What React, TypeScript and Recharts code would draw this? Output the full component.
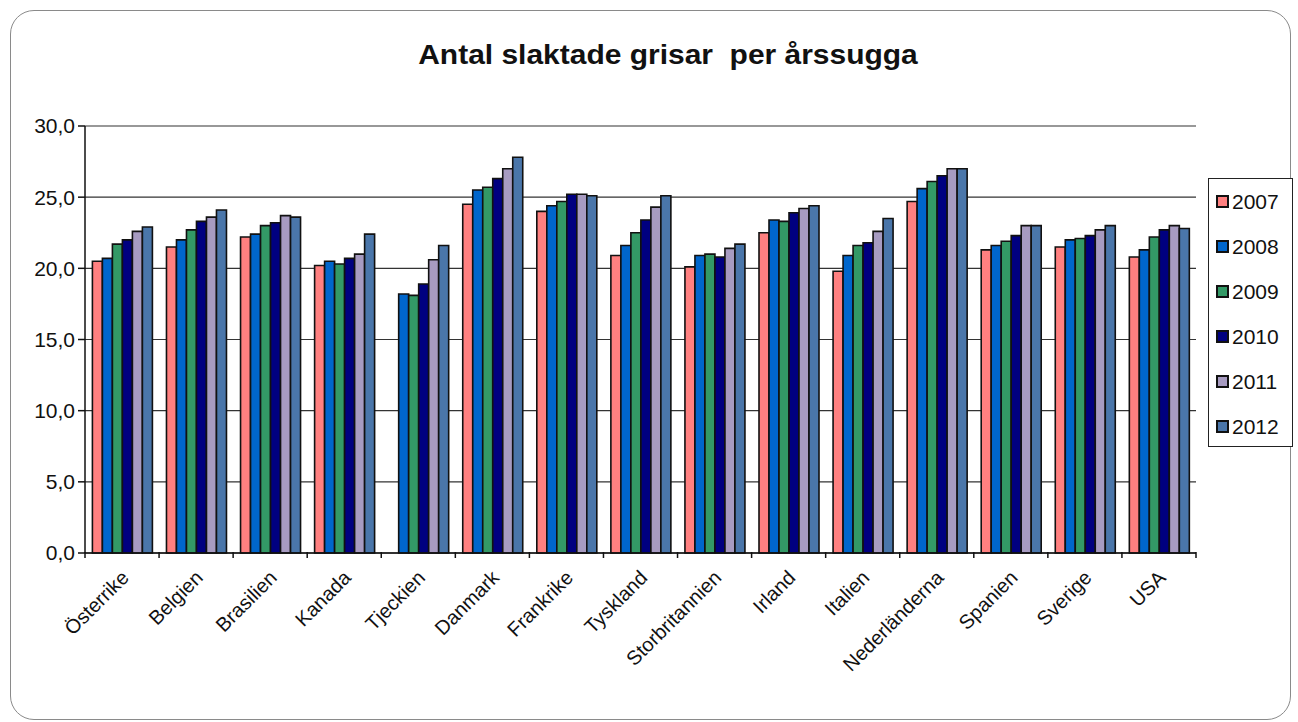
import React from 'react'
import { BarChart, Bar, XAxis, YAxis, CartesianGrid, Legend } from 'recharts'

const countries = [
  'Österrike', 'Belgien', 'Brasilien', 'Kanada', 'Tjeckien', 'Danmark', 'Frankrike', 'Tyskland',
  'Storbritannien', 'Irland', 'Italien', 'Nederländerna', 'Spanien', 'Sverige', 'USA'
]

const v2007 = [20.5, 21.5, 22.2, 20.2, null, 24.5, 24.0, 20.9, 20.1, 22.5, 19.8, 24.7, 21.3, 21.5, 20.8]
const v2008 = [20.7, 22.0, 22.4, 20.5, 18.2, 25.5, 24.4, 21.6, 20.9, 23.4, 20.9, 25.6, 21.6, 22.0, 21.3]
const v2009 = [21.7, 22.7, 23.0, 20.3, 18.1, 25.7, 24.7, 22.5, 21.0, 23.3, 21.6, 26.1, 21.9, 22.1, 22.2]
const v2010 = [22.0, 23.3, 23.2, 20.7, 18.9, 26.3, 25.2, 23.4, 20.8, 23.9, 21.8, 26.5, 22.3, 22.3, 22.7]
const v2011 = [22.6, 23.6, 23.7, 21.0, 20.6, 27.0, 25.2, 24.3, 21.4, 24.2, 22.6, 27.0, 23.0, 22.7, 23.0]
const v2012 = [22.9, 24.1, 23.6, 22.4, 21.6, 27.8, 25.1, 25.1, 21.7, 24.4, 23.5, 27.0, 23.0, 23.0, 22.8]

const years = ['2007', '2008', '2009', '2010', '2011', '2012']
const series = [v2007, v2008, v2009, v2010, v2011, v2012]
const colors = ['#FF8080', '#0066CC', '#339966', '#000080', '#A79BC1', '#4A76AA']

const yTicks = [0, 5, 10, 15, 20, 25, 30]

const data = countries.map((name, i) => {
  const row: Record<string, string | number | null> = { name }
  years.forEach((y, k) => {
    row[y] = series[k][i]
  })
  return row
})

const font = 'Arial, "Liberation Sans", sans-serif'

// tick label plus a tick mark on each category boundary (Excel style)
const CountryTick = (props: any) => {
  const { x, y, payload } = props
  const half = payload.offset || 0
  const axisY = y - 1
  const last = payload.index === countries.length - 1
  return (
    <g>
      <line x1={x - half} x2={x - half} y1={axisY - 8} y2={axisY - 2} stroke="#111" strokeWidth={1.5} />
      {last && <line x1={x + half} x2={x + half} y1={axisY - 8} y2={axisY - 2} stroke="#111" strokeWidth={1.5} />}
      <g transform={`translate(${x + 8},${y + 18})`}>
        <text transform="rotate(-45)" textAnchor="end" fontSize={20} fontFamily={font} fill="#111">
          {payload.value}
        </text>
      </g>
    </g>
  )
}

const LegendBox = (props: any) => {
  const items = props.payload || []
  return (
    <div style={{ border: '1px solid #222', width: 85, height: 269, boxSizing: 'border-box', paddingTop: 0, background: '#fff' }}>
      {items.map((it: any) => (
        <div key={it.value} style={{ display: 'flex', alignItems: 'center', height: 45, paddingLeft: 7, fontFamily: font, fontSize: 21, color: '#111' }}>
          <span style={{ width: 9, height: 9, background: it.color, border: '2px solid #111', marginRight: 3, display: 'inline-block' }} />
          {it.value}
        </div>
      ))}
    </div>
  )
}

export default function App() {
  return (
    <div style={{ position: 'absolute', left: 0, top: 0, width: 1298, height: 722, background: '#fff', overflow: 'hidden' }}>
      <div style={{ position: 'absolute', left: 10, top: 10, width: 1281, height: 710, border: '1.5px solid #8a8a8a', borderRadius: 24, boxSizing: 'border-box' }} />
      <div style={{ position: 'absolute', left: 368, width: 600, top: 39, textAlign: 'center', fontFamily: font, fontWeight: 'bold', fontSize: 28, color: '#111', transform: 'scaleX(1.07)' }}>
        Antal slaktade grisar&nbsp; per årssugga
      </div>
      <div style={{ position: 'absolute', left: 0, top: 0 }}>
        <BarChart
          width={1298}
          height={722}
          data={data}
          margin={{ top: 126, right: 102, left: 25, bottom: 0 }}
          barCategoryGap="10%"
          barGap={0}
        >
          <CartesianGrid vertical={false} stroke="#333" strokeWidth={1.2} />
          <XAxis
            dataKey="name"
            height={169}
            interval={0}
            tickLine={false}
            tickSize={8}
            tickMargin={0}
            axisLine={{ stroke: '#111', strokeWidth: 1.5 }}
            tick={<CountryTick />}
          />
          <YAxis
            domain={[0, 30]}
            ticks={yTicks}
            width={60}
            tickSize={7}
            tickMargin={3}
            axisLine={{ stroke: '#111', strokeWidth: 1.5 }}
            tickLine={{ stroke: '#111', strokeWidth: 1.5 }}
            tick={{ fontSize: 21, fontFamily: font, fill: '#111' }}
            tickFormatter={(v: number) => v.toFixed(1).replace('.', ',')}
          />
          <YAxis yAxisId="frame" orientation="right" width={0} tick={false} axisLine={{ stroke: '#8a8a8a', strokeWidth: 2 }} domain={[0, 30]} />
          <Legend
            layout="vertical"
            align="center"
            verticalAlign="middle"
            wrapperStyle={{ left: 1208, top: 178, width: 85, height: 269 }}
            content={<LegendBox />}
          />
          {years.map((y, k) => (
            <Bar key={y} dataKey={y} name={y} fill={colors[k]} stroke="#111" strokeWidth={1.6} isAnimationActive={false} />
          ))}
        </BarChart>
      </div>
    </div>
  )
}
